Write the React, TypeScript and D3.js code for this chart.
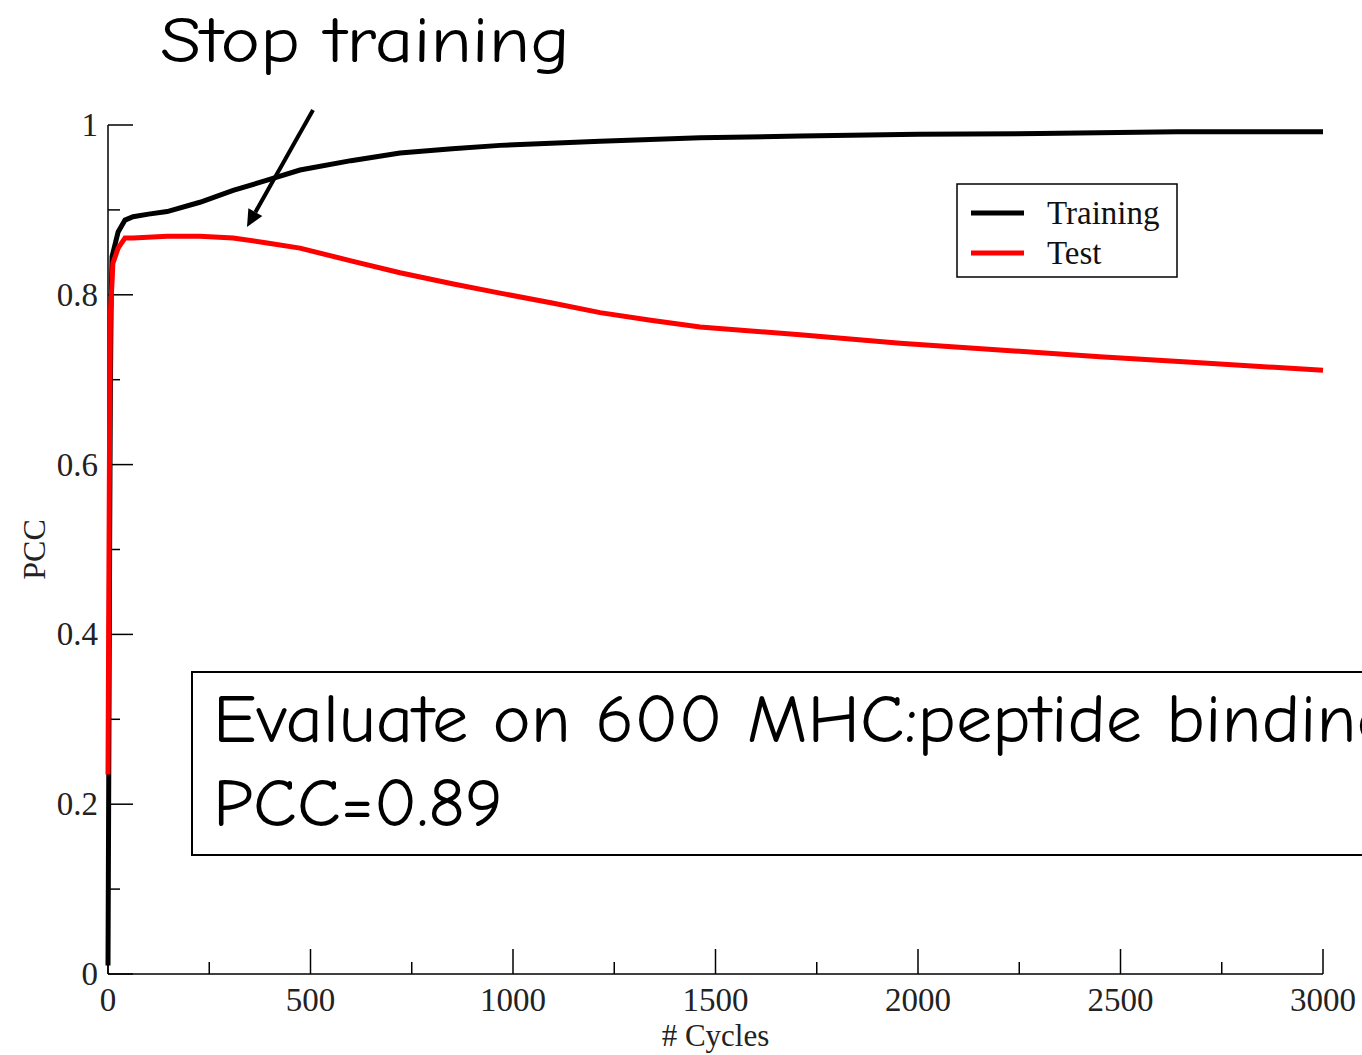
import React from 'react'
import * as d3 from 'd3'

// cycles
const trainCycles = [0, 2, 4, 6, 8, 10, 25, 42, 62, 100, 146, 227, 309, 393, 474, 600, 721, 850, 968, 1215, 1462, 1710, 2000, 2300, 2640, 3000]
const trainPCC = [0.01, 0.25, 0.5, 0.7, 0.8, 0.845, 0.874, 0.888, 0.892, 0.895, 0.898, 0.909, 0.923, 0.935, 0.947, 0.958, 0.967, 0.972, 0.976, 0.981, 0.985, 0.987, 0.989, 0.99, 0.992, 0.992]

const testCycles = [0, 2, 4, 6, 10, 12, 25, 42, 62, 146, 227, 309, 393, 474, 600, 721, 850, 968, 1100, 1215, 1340, 1462, 1709, 1956, 2202, 2449, 2696, 3000]
const testPCC = [0.235, 0.45, 0.65, 0.78, 0.815, 0.837, 0.855, 0.867, 0.867, 0.869, 0.869, 0.867, 0.861, 0.855, 0.84, 0.826, 0.813, 0.802, 0.79, 0.779, 0.77, 0.762, 0.753, 0.743, 0.735, 0.727, 0.72, 0.711]

const xMajor = [0, 500, 1000, 1500, 2000, 2500, 3000]
const xMinor = [250, 750, 1250, 1750, 2250, 2750]
const yMajor = [0, 0.2, 0.4, 0.6, 0.8, 1]
const yMinor = [0.1, 0.3, 0.5, 0.7, 0.9]
const yLabels = ['0', '0.2', '0.4', '0.6', '0.8', '1']

const seriesNames = ['Training', 'Test']
const seriesColors = ['#000000', '#ff0000']

const W = 1362
const H = 1055
const serif = '"Liberation Serif", "Times New Roman", serif'
const comic = '"Comic Sans MS", "Comic Neue", "Open Sans", sans-serif'

export default function App () {
    const x = d3.scaleLinear().domain([0, 3000]).range([108, 1323])
    const y = d3.scaleLinear().domain([0, 1]).range([974, 125])

    const line = d3.line<[number, number]>()
        .x(d => x(d[0]))
        .y(d => y(d[1]))

    const trainData = trainCycles.map((c, i) => [c, trainPCC[i]] as [number, number])
    const testData = testCycles.map((c, i) => [c, testPCC[i]] as [number, number])

    // arrow pointing at the stop point
    const ax1 = 313, ay1 = 110, ax2 = 247, ay2 = 227
    const ang = Math.atan2(ay2 - ay1, ax2 - ax1)
    const headLen = 17, headW = 8
    const bx = ax2 - headLen * Math.cos(ang)
    const by = ay2 - headLen * Math.sin(ang)
    const head = [
        [ax2, ay2],
        [bx + headW * Math.sin(ang), by - headW * Math.cos(ang)],
        [bx - headW * Math.sin(ang), by + headW * Math.cos(ang)]
    ].map(p => p.join(',')).join(' ')

    return (
        <svg width={W} height={H} style={{ position: 'absolute', left: 0, top: 0, background: '#fff' }}>
            {/* axes */}
            <line x1={x(0)} x2={x(0)} y1={y(0)} y2={y(1)} stroke="#000" strokeWidth={1.5} />
            <line x1={x(0)} x2={x(3000)} y1={y(0)} y2={y(0)} stroke="#000" strokeWidth={1.5} />
            {yMajor.map((v, i) => (
                <g key={'ym' + i}>
                    <line x1={x(0)} x2={x(0) + 25} y1={y(v)} y2={y(v)} stroke="#000" strokeWidth={1.5} />
                    <text x={98} y={y(v) + 11} textAnchor="end" fontFamily={serif} fontSize={33} fill="#222">{yLabels[i]}</text>
                </g>
            ))}
            {yMinor.map((v, i) => (
                <line key={'yn' + i} x1={x(0)} x2={x(0) + 12} y1={y(v)} y2={y(v)} stroke="#000" strokeWidth={1.5} />
            ))}
            {xMajor.map((v, i) => (
                <g key={'xm' + i}>
                    <line x1={x(v)} x2={x(v)} y1={y(0)} y2={y(0) - 25} stroke="#000" strokeWidth={1.5} />
                    <text x={x(v)} y={1011} textAnchor="middle" fontFamily={serif} fontSize={33} fill="#222">{v}</text>
                </g>
            ))}
            {xMinor.map((v, i) => (
                <line key={'xn' + i} x1={x(v)} x2={x(v)} y1={y(0)} y2={y(0) - 12} stroke="#000" strokeWidth={1.5} />
            ))}
            <text x={x(1500)} y={1046} textAnchor="middle" fontFamily={serif} fontSize={31} fill="#222"># Cycles</text>
            <text transform={`translate(45, ${y(0.5)}) rotate(-90)`} textAnchor="middle" fontFamily={serif} fontSize={32} fill="#222">PCC</text>

            {/* series */}
            <path d={line(trainData) || ''} fill="none" stroke={seriesColors[0]} strokeWidth={5} />
            <path d={line(testData) || ''} fill="none" stroke={seriesColors[1]} strokeWidth={5} />

            {/* legend */}
            <rect x={957} y={184} width={220} height={93} fill="#fff" stroke="#000" strokeWidth={1.5} />
            {seriesNames.map((n, i) => (
                <g key={n}>
                    <line x1={971} x2={1024} y1={213 + i * 40} y2={213 + i * 40} stroke={seriesColors[i]} strokeWidth={5} />
                    <text x={1047} y={224 + i * 40} fontFamily={serif} fontSize={33} fill="#111">{n}</text>
                </g>
            ))}

            {/* annotations */}
            <text x={160} y={62} fontFamily={comic} fontSize={64} textLength={410} lengthAdjust="spacingAndGlyphs" fill="#000">Stop training</text>
            <line x1={ax1} y1={ay1} x2={bx} y2={by} stroke="#000" strokeWidth={4} />
            <polygon points={head} fill="#000" />

            <rect x={192} y={672} width={1250} height={183} fill="#fff" stroke="#000" strokeWidth={2} />
            <text x={213} y={742} fontFamily={comic} fontSize={68} textLength={1182} lengthAdjust="spacingAndGlyphs" fill="#000">Evaluate on 600 MHC:peptide binding</text>
            <text x={213} y={826} fontFamily={comic} fontSize={68} textLength={290} lengthAdjust="spacingAndGlyphs" fill="#000">PCC=0.89</text>
        </svg>
    )
}
